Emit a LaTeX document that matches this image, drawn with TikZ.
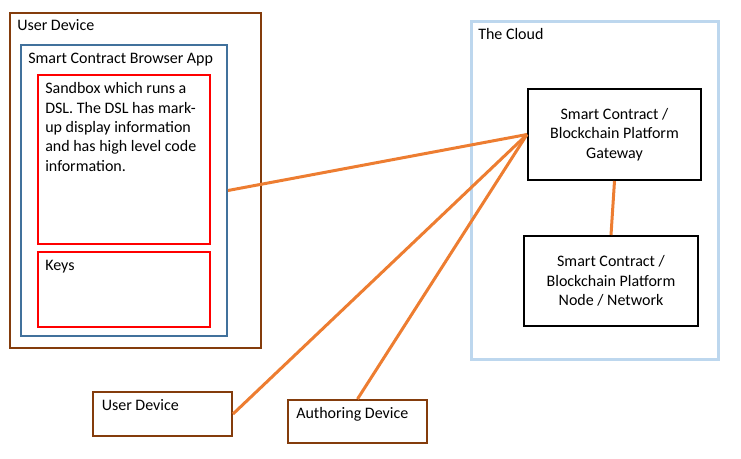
\documentclass[tikz,border=0pt]{standalone}
\usepackage{fontspec}
\setmainfont{Carlito}
\usetikzlibrary{fit,calc}
\definecolor{devbrown}{HTML}{843C0C}
\definecolor{appblue}{HTML}{41719C}
\definecolor{cloudblue}{HTML}{BDD7EE}
\definecolor{linkorange}{HTML}{ED7D31}

\begin{document}
\begin{tikzpicture}[x=0.75pt, y=-0.75pt, font=\fontsize{12}{14.5}\selectfont,
	box/.style = {draw, inner sep=0pt, line width=1.5pt},
	lbl/.style = {anchor=base west, inner sep=0pt, align=left},
	link/.style = {draw=linkorange, line width=2.25pt}]
	\useasboundingbox (0,0) rectangle (741,459);
	% user device with the browser app
	\node[box, draw=devbrown, fit={(10,13) (261,348)}] (userdev) {};
	\node[box, draw=appblue, fit={(21,45) (227,336)}] (app) {};
	\node[box, draw=red, fit={(38,75) (210,244)}] (sandbox) {};
	\node[box, draw=red, fit={(38,252) (210,327)}] (keys) {};
	\node[lbl] at (17,31) {User Device};
	\node[lbl] at (28,64) {Smart Contract Browser App};
	\node[lbl] at (45,171.3) {Sandbox which runs a\\DSL. The DSL has mark-\\up display information\\and has high level code\\information.};
	\node[lbl] at (45,270.5) {Keys};
	% the cloud
	\node[box, draw=cloudblue, line width=2.25pt, fit={(471,22) (718,359)}] (cloud) {};
	\node[lbl] at (478,40) {The Cloud};
	\node[box, fit={(528,89) (701,180)}] (gateway) {};
	\node[align=center, inner sep=0pt] at (gateway.center) {Smart Contract /\\Blockchain Platform\\Gateway};
	\node[box, fit={(524,236) (698,326)}] (network) {};
	\node[align=center, inner sep=0pt] at (network.center) {Smart Contract /\\Blockchain Platform\\Node / Network};
	% other devices
	\node[box, draw=devbrown, fit={(93,392) (232,436)}] (userdev2) {};
	\node[lbl] at (101.5,410) {User Device};
	\node[box, draw=devbrown, fit={(288,400) (427,443)}] (author) {};
	\node[lbl] at (296,418) {Authoring Device};
	% links
	\draw[link] (app.east) -- (gateway.west);
	\draw[link] (userdev2.east) -- (gateway.west);
	\draw[link] (author.north) -- (gateway.west);
	\draw[link] (gateway.south) -- (network.north);
\end{tikzpicture}
\end{document}
